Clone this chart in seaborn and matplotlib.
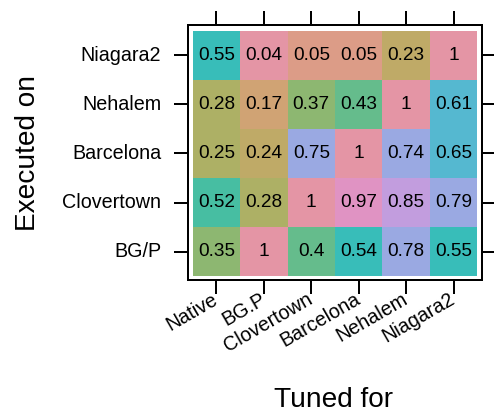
import matplotlib.pyplot as plt
import numpy as np
import pandas as pd
import seaborn as sns
from matplotlib.colors import BoundaryNorm, ListedColormap
from seaborn.external import husl

# rows listed from top to bottom
executed_on = ['Niagara2', 'Nehalem', 'Barcelona', 'Clovertown', 'BG/P']
tuned_for = ['Native', 'BG.P', 'Clovertown', 'Barcelona', 'Nehalem', 'Niagara2']

niagara2 = [0.55, 0.04, 0.05, 0.05, 0.23, 1]
nehalem = [0.28, 0.17, 0.37, 0.43, 1, 0.61]
barcelona = [0.25, 0.24, 0.75, 1, 0.74, 0.65]
clovertown = [0.52, 0.28, 1, 0.97, 0.85, 0.79]
bgp = [0.35, 1, 0.4, 0.54, 0.78, 0.55]

df = pd.DataFrame([niagara2, nehalem, barcelona, clovertown, bgp],
                  index=executed_on, columns=tuned_for)
labels = df.map(lambda v: f'{v:g}').values

# colour levels: HCL rainbow (l=70, c=50), one hue per level
level_edges = [0, 0.045, 0.1, 0.2, 0.245, 0.3, 0.38, 0.5, 0.53, 0.6, 0.7, 0.8, 0.9, 0.99, 1.01]
level_hues = [0, 28, 48, 70, 88, 115, 144, 165, 188, 216, 258, 288, 330, 360]
colors = [np.clip(husl.lch_to_rgb(70, 50, h), 0, 1) for h in level_hues]
cmap = ListedColormap(colors)
norm = BoundaryNorm(level_edges, len(colors))

plt.rcParams['font.family'] = ['Liberation Sans', 'DejaVu Sans']
fig = plt.figure(figsize=(494 / 72, 414 / 72), dpi=72)
ax = fig.add_axes([188.3 / 494, 1 - 280 / 414, 293.4 / 494, 255 / 414])

sns.heatmap(df, ax=ax, cmap=cmap, norm=norm, cbar=False,
            annot=labels, fmt='', annot_kws={'color': 'black', 'fontsize': 19})

ax.set_xlim(-0.093, 6.093)
ax.set_ylim(5.08, -0.12)
for s in ax.spines.values():
    s.set_visible(True)
    s.set_linewidth(2)
    s.set_color('black')

ax.tick_params(axis='both', direction='out', length=14, width=2, top=True, right=True,
               labeltop=False, labelright=False, labelsize=19.8)
ax.tick_params(axis='y', pad=13)
ax.tick_params(axis='x', pad=4)
ax.set_yticklabels(executed_on, rotation=0)
ax.set_xticklabels(tuned_for, rotation=30, ha='right', va='center', rotation_mode='anchor')
ax.set_xlabel('')
ax.set_ylabel('')

fig.text(334 / 494, 1 - 407 / 414, 'Tuned for', fontsize=28, ha='center', va='baseline')
fig.text(35 / 494, 1 - 152.5 / 414, 'Executed on', fontsize=28, rotation=90,
         ha='center', va='baseline', rotation_mode='anchor')

fig.savefig('out.png', dpi=72)
